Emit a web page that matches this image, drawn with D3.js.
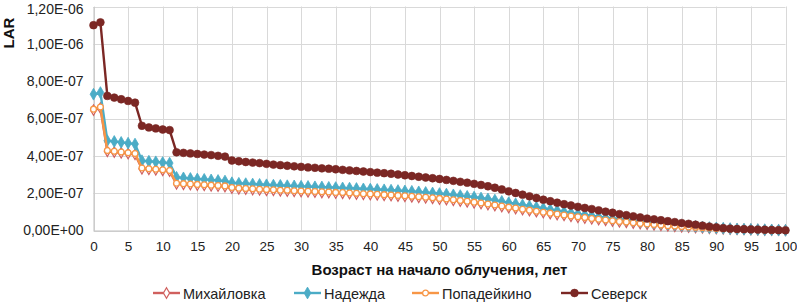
<!DOCTYPE html>
<html><head><meta charset="utf-8">
<script src="https://cdn.jsdelivr.net/npm/d3@7"></script>
<style>body{margin:0;background:#fff}svg{display:block;font-family:"Liberation Sans",Arial,sans-serif}</style>
</head><body><svg id="c" width="797" height="305"></svg>
<script>
const ages = d3.range(0, 101);
const seriesNames = ["Михайловка", "Надежда", "Попадейкино", "Северск"];
const yTicks = [0, 2e-7, 4e-7, 6e-7, 8e-7, 1e-6, 1.2e-6];
const yTickLabels = ["0,00E+00","2,00E-07","4,00E-07","6,00E-07","8,00E-07","1,00E-06","1,20E-06"];
const xTicks = d3.range(0, 101, 5);
// values in units of 1E-07
const mikhailovka = [6.45,6.56,4.24,4.20,4.16,4.12,4.08,3.31,3.28,3.25,3.22,3.18,2.50,2.48,2.46,2.44,2.42,2.40,2.38,2.36,2.27,2.24,2.22,2.20,2.18,2.16,2.15,2.13,2.12,2.10,2.09,2.07,2.06,2.04,2.03,2.01,2.00,1.98,1.96,1.94,1.93,1.91,1.89,1.87,1.85,1.83,1.80,1.78,1.75,1.72,1.69,1.66,1.62,1.58,1.54,1.49,1.44,1.39,1.34,1.28,1.23,1.18,1.12,1.07,1.01,0.96,0.91,0.86,0.81,0.76,0.71,0.67,0.63,0.59,0.55,0.51,0.47,0.44,0.40,0.37,0.34,0.31,0.28,0.25,0.23,0.20,0.18,0.16,0.14,0.12,0.11,0.09,0.08,0.07,0.06,0.05,0.04,0.03,0.02,0.02,0.01];
const nadezhda = [7.30,7.39,4.81,4.77,4.72,4.68,4.63,3.74,3.71,3.68,3.64,3.61,2.85,2.82,2.79,2.76,2.74,2.71,2.68,2.65,2.56,2.53,2.51,2.49,2.47,2.45,2.43,2.42,2.40,2.39,2.37,2.36,2.34,2.33,2.31,2.30,2.28,2.27,2.25,2.23,2.22,2.20,2.18,2.16,2.14,2.12,2.10,2.07,2.04,2.01,1.98,1.95,1.91,1.87,1.83,1.79,1.74,1.69,1.63,1.56,1.49,1.43,1.37,1.31,1.25,1.19,1.13,1.07,1.01,0.95,0.89,0.84,0.79,0.74,0.69,0.64,0.60,0.56,0.52,0.48,0.44,0.41,0.37,0.34,0.31,0.28,0.25,0.22,0.19,0.16,0.14,0.12,0.10,0.08,0.07,0.06,0.05,0.04,0.03,0.02,0.01];
const popadeikino = [6.50,6.62,4.28,4.24,4.20,4.16,4.12,3.35,3.31,3.28,3.25,3.21,2.53,2.51,2.49,2.47,2.45,2.43,2.41,2.39,2.30,2.27,2.25,2.23,2.21,2.19,2.18,2.16,2.15,2.13,2.12,2.10,2.09,2.07,2.06,2.04,2.03,2.01,1.99,1.97,1.96,1.94,1.92,1.90,1.88,1.86,1.83,1.81,1.78,1.75,1.72,1.69,1.65,1.61,1.57,1.52,1.47,1.42,1.37,1.31,1.25,1.20,1.14,1.09,1.03,0.98,0.93,0.88,0.83,0.78,0.73,0.69,0.64,0.60,0.56,0.52,0.48,0.45,0.41,0.38,0.35,0.32,0.29,0.26,0.24,0.21,0.19,0.17,0.15,0.13,0.11,0.10,0.08,0.07,0.06,0.05,0.04,0.03,0.02,0.02,0.01];
const seversk = [11.00,11.15,7.21,7.12,7.03,6.94,6.85,5.61,5.52,5.47,5.41,5.38,4.19,4.16,4.13,4.10,4.07,4.04,4.00,3.96,3.75,3.71,3.67,3.64,3.61,3.57,3.53,3.50,3.47,3.44,3.41,3.38,3.36,3.33,3.31,3.28,3.25,3.22,3.19,3.16,3.13,3.10,3.07,3.04,3.00,2.96,2.92,2.88,2.84,2.80,2.76,2.71,2.66,2.61,2.56,2.50,2.44,2.37,2.29,2.20,2.10,2.01,1.92,1.83,1.74,1.65,1.57,1.49,1.41,1.34,1.27,1.21,1.15,1.08,1.01,0.95,0.88,0.82,0.76,0.70,0.64,0.60,0.55,0.50,0.45,0.40,0.36,0.31,0.26,0.21,0.17,0.13,0.10,0.08,0.07,0.06,0.05,0.04,0.03,0.02,0.01];
const unit = 1e-7;

const colors = ["#d0605e", "#4bacc6", "#f79646", "#7b2724"];
const seriesData = [mikhailovka, nadezhda, popadeikino, seversk];

const svg = d3.select("#c");
const L = 93.5, R = 785.5, T = 6.5, B = 230.5;
const x = d3.scaleLinear().domain([0, 100]).range([L, R]);
const y = d3.scaleLinear().domain([0, 1.2e-6]).range([B, T]);

// gridlines
svg.append("g").selectAll("line").data(yTicks).join("line")
  .attr("x1", L).attr("x2", R).attr("y1", d => Math.round(y(d)) + 0.5).attr("y2", d => Math.round(y(d)) + 0.5)
  .attr("stroke", "#d9d9d9").attr("stroke-width", 1);
svg.append("g").selectAll("line").data(xTicks).join("line")
  .attr("y1", T).attr("y2", B).attr("x1", d => Math.round(x(d)) + 0.5).attr("x2", d => Math.round(x(d)) + 0.5)
  .attr("stroke", "#d9d9d9").attr("stroke-width", 1);

// axes
const yAxis = d3.axisLeft(y).tickValues(yTicks).tickFormat((d, i) => yTickLabels[i]).tickSize(0).tickPadding(10);
const gy = svg.append("g").attr("transform", `translate(${L},0)`).call(yAxis);
gy.select(".domain").attr("stroke", "#bfbfbf");
gy.selectAll("text").attr("font-size", 14).attr("fill", "#222").attr("font-family", "Liberation Sans, Arial");
gy.selectAll(".tick").filter(d => d === 1.2e-6).select("text").attr("dy", "0.5em");
const xAxis = d3.axisBottom(x).tickValues(xTicks).tickSize(0).tickPadding(11);
const gx = svg.append("g").attr("transform", `translate(0,${B})`).call(xAxis);
gx.select(".domain").attr("stroke", "#bfbfbf");
gx.selectAll("text").attr("font-size", 13.5).attr("fill", "#222").attr("font-family", "Liberation Sans, Arial");

// titles
svg.append("text").attr("x", (L + R) / 2).attr("y", 275).attr("text-anchor", "middle")
  .attr("font-size", 15).attr("font-weight", "bold").attr("fill", "#111").text("Возраст на начало облучения, лет");
svg.append("text").attr("transform", "translate(13.5,33) rotate(-90)").attr("text-anchor", "middle")
  .attr("font-size", 15).attr("font-weight", "bold").attr("fill", "#111").text("LAR");

const line = d3.line().x((d, i) => x(ages[i])).y(d => y(d * unit));

function drawMarker(g, k, cx, cy) {
  if (k === 0) {
    g.append("path").attr("d", d3.symbol(d3.symbolDiamond, 32)())
      .attr("transform", `translate(${cx},${cy})`).attr("fill", "#fff").attr("stroke", colors[0]).attr("stroke-width", 1.2);
  } else if (k === 1) {
    g.append("path").attr("d", d3.symbol(d3.symbolDiamond, 40)())
      .attr("transform", `translate(${cx},${cy})`).attr("fill", colors[1]).attr("stroke", colors[1]).attr("stroke-width", 0.8);
  } else if (k === 2) {
    g.append("circle").attr("cx", cx).attr("cy", cy).attr("r", 2.9)
      .attr("fill", "#fff").attr("stroke", colors[2]).attr("stroke-width", 1.3);
  } else {
    g.append("circle").attr("cx", cx).attr("cy", cy).attr("r", 3.9)
      .attr("fill", colors[3]).attr("stroke", colors[3]).attr("stroke-width", 0.6);
  }
}

seriesData.forEach((vals, k) => {
  const g = svg.append("g");
  g.append("path").datum(vals).attr("d", line).attr("fill", "none")
    .attr("stroke", colors[k]).attr("stroke-width", 2.4).attr("stroke-linejoin", "round");
  vals.forEach((v, i) => drawMarker(g, k, x(ages[i]), y(v * unit)));
});

// legend
const legendX = [153, 294, 412, 561];
const lg = svg.append("g");
seriesNames.forEach((name, k) => {
  const g = lg.append("g").attr("transform", `translate(${legendX[k]},293)`);
  g.append("line").attr("x1", 0).attr("x2", 27).attr("y1", 0).attr("y2", 0).attr("stroke", colors[k]).attr("stroke-width", 2.4);
  drawMarker(g, k, 13.5, 0);
  g.append("text").attr("x", 30).attr("y", 5.5).attr("font-size", 14.5).attr("fill", "#222").text(name);
});
</script>
</body></html>
